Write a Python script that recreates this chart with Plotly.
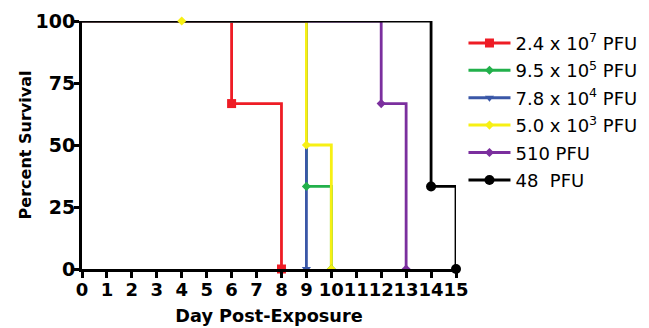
import plotly.graph_objects as go

# ---- data ----
names = ["2.4 x 10<sup>7</sup> PFU", "9.5 x 10<sup>5</sup> PFU", "7.8 x 10<sup>4</sup> PFU",
         "5.0 x 10<sup>3</sup> PFU", "510 PFU", "48  PFU"]
colors = ["#ee1c25", "#22b04b", "#3a57a7", "#f7f014", "#7b2f9e", "#000000"]
symbols = ["square", "diamond", "triangle-down", "diamond", "diamond", "circle"]
msizes = [9, 7, 8, 7, 7, 10]

red_day = [0, 6, 8];          red_surv = [100, 66.7, 0]
green_day = [0, 9, 10];       green_surv = [100, 33.3, 0]
blue_day = [0, 9];            blue_surv = [100, 0]
yellow_day = [0, 4, 9, 10];   yellow_surv = [100, 100, 50, 0]
purple_day = [0, 12, 13];     purple_surv = [100, 66.7, 0]
black_day = [0, 14, 15];      black_surv = [100, 33.3, 0]

days = [red_day, green_day, blue_day, yellow_day, purple_day, black_day]
survs = [red_surv, green_surv, blue_surv, yellow_surv, purple_surv, black_surv]

x_ticks = list(range(0, 16))
y_ticks = [0, 25, 50, 75, 100]

fig = go.Figure()
for i, (d, s) in enumerate(zip(days, survs)):
    fig.add_trace(go.Scatter(x=d, y=s, mode="lines", line=dict(color=colors[i], width=2.8, shape="hv"),
                             showlegend=False, cliponaxis=False, hoverinfo="skip"))
for i, (d, s) in enumerate(zip(days, survs)):
    fig.add_trace(go.Scatter(x=d[1:], y=s[1:], mode="markers",
                             marker=dict(color=colors[i], symbol=symbols[i], size=msizes[i]),
                             showlegend=False, cliponaxis=False))
for i in range(len(names)):
    fig.add_trace(go.Scatter(x=[None], y=[None], mode="lines+markers", name=names[i],
                             legendgroup=str(i),
                             line=dict(color=colors[i], width=3),
                             marker=dict(color=colors[i], symbol=symbols[i], size=msizes[i])))

# page body has an 8px margin, so the figure is drawn at (8, 8)
fig.update_layout(
    width=641, height=320,
    margin=dict(l=74, r=193, t=13, b=59, autoexpand=False),
    plot_bgcolor="white", paper_bgcolor="white",
    font=dict(family="DejaVu Sans", color="black"),
    legend=dict(x=1.02, y=0.985, xanchor="left", yanchor="top",
                font=dict(size=18, family="DejaVu Sans"),
                traceorder="grouped", tracegroupgap=1, itemwidth=42,
                bgcolor="rgba(0,0,0,0)"),
    xaxis=dict(range=[0, 15], tickvals=x_ticks, ticktext=[str(v) for v in x_ticks], tickangle=0,
               automargin=False, ticklabelstandoff=-4,
               showgrid=False, zeroline=False, showline=True, linecolor="black", linewidth=3,
               ticks="outside", ticklen=6, tickwidth=2.5, tickcolor="black",
               tickfont=dict(size=18, weight="bold"),
               title=dict(text="Day Post-Exposure", font=dict(size=17.7, weight="bold"), standoff=12)),
    yaxis=dict(range=[0, 100], tickvals=y_ticks, automargin=False, ticklabelstandoff=-5,
               showgrid=False, zeroline=False, showline=True, linecolor="black", linewidth=3,
               ticks="outside", ticklen=5, tickwidth=2.5, tickcolor="black",
               tickfont=dict(size=19, weight="bold"),
               title=dict(text="Percent Survival", font=dict(size=16, weight="bold"), standoff=0)),
)

fig.write_html("out.html")
